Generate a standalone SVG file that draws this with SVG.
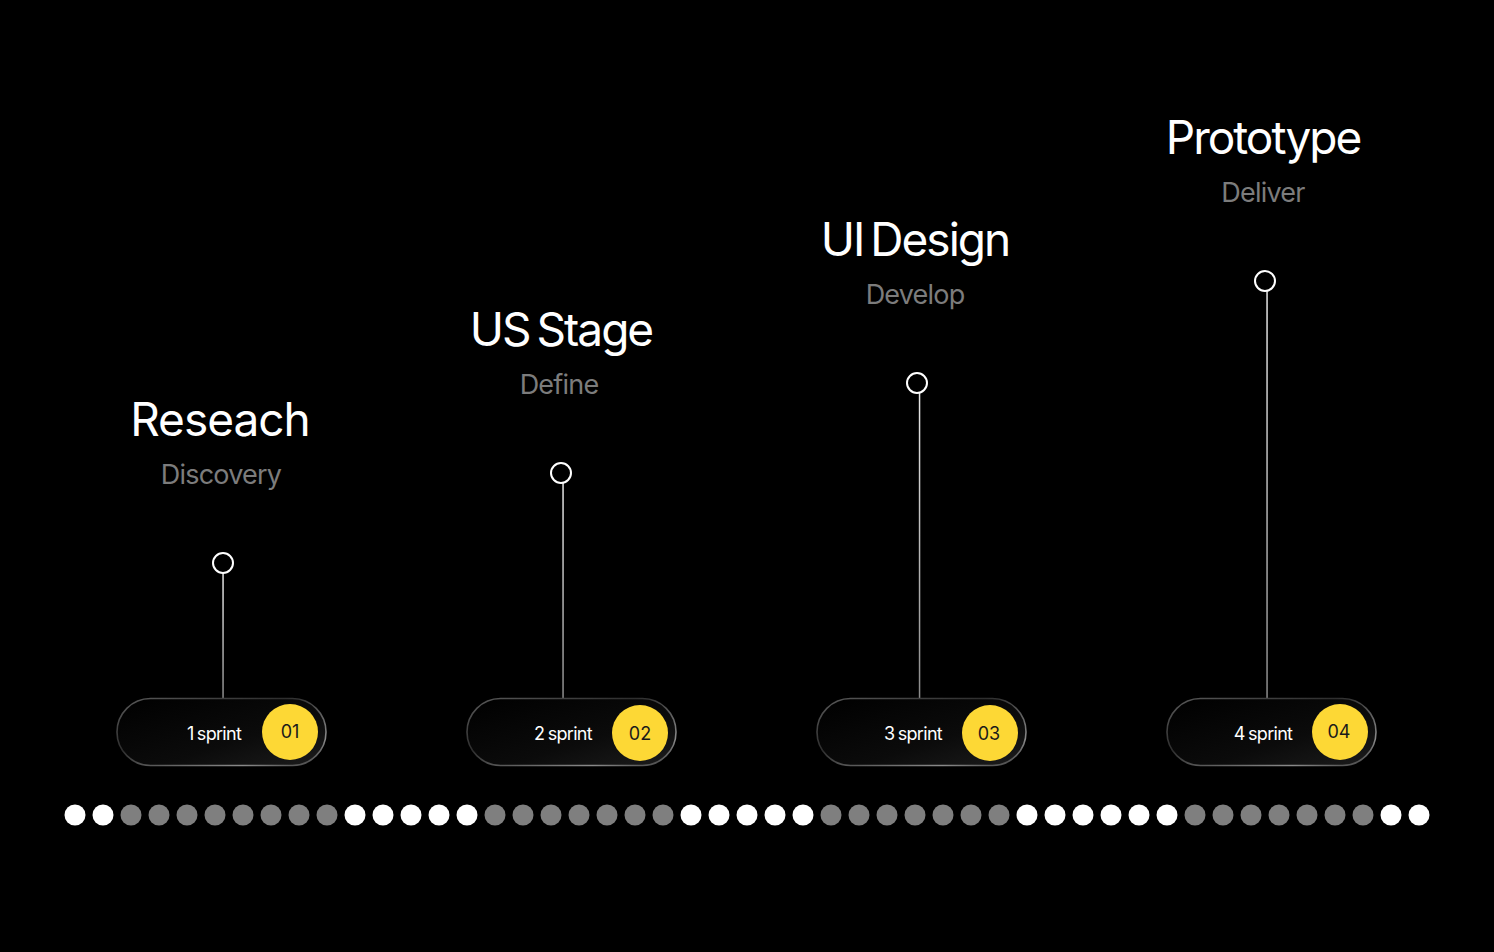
<svg xmlns="http://www.w3.org/2000/svg" width="1494" height="952" viewBox="0 0 1494 952">
<defs>
<style>
.title{font-family:Inter,"Liberation Sans",sans-serif;font-size:46px;fill:#ffffff;text-anchor:middle;font-weight:400;letter-spacing:-2px;word-spacing:-4px}
.sub{font-family:Inter,"Liberation Sans",sans-serif;font-size:27px;fill:#7c7c7c;text-anchor:middle;letter-spacing:-0.8px}
.spr{font-family:Inter,"Liberation Sans",sans-serif;font-size:18px;fill:#ffffff;text-anchor:middle;letter-spacing:-0.7px;word-spacing:-1px}
.num{font-family:Inter,"Liberation Sans",sans-serif;font-size:18px;fill:#1a1a1a;text-anchor:middle}
.pin{fill:#000;stroke:#fff;stroke-width:2}
.pill{fill:url(#pillFill);stroke:url(#pillStroke);stroke-width:1.6}
.badge{fill:#fdd835}
.w{fill:#ffffff}
.g{fill:#7f7f7f}
</style>
<linearGradient id="pillFill" x1="0" y1="0" x2="1" y2="1">
<stop offset="0" stop-color="#000"/>
<stop offset="0.6" stop-color="#0b0b0b"/>
<stop offset="1" stop-color="#1c1c1c"/>
</linearGradient>
<linearGradient id="pillStroke" x1="0" y1="0" x2="1" y2="1">
<stop offset="0" stop-color="#5a5a5a"/>
<stop offset="0.4" stop-color="#2e2e2e"/>
<stop offset="0.8" stop-color="#8a8a8a"/>
<stop offset="1" stop-color="#3a3a3a"/>
</linearGradient>
<linearGradient id="stem" x1="0" y1="0" x2="0" y2="1">
<stop offset="0" stop-color="#e6e6e6"/>
<stop offset="1" stop-color="#8a8a8a"/>
</linearGradient>
</defs>
<rect width="1494" height="952" fill="#000"/>

<g id="connectors">
<rect x="222.3" y="573" width="1.5" height="125" fill="url(#stem)"/>
<rect x="562.3" y="483" width="1.5" height="215" fill="url(#stem)"/>
<rect x="918.8" y="393" width="1.5" height="305" fill="url(#stem)"/>
<rect x="1266.3" y="291" width="1.5" height="407" fill="url(#stem)"/>
</g>

<g id="stage1">
<text class="title" x="220" y="436" style="letter-spacing:-1px">Reseach</text>
<text class="sub" x="221" y="484">Discovery</text>
<circle class="pin" cx="223" cy="563" r="10"/>
<rect class="pill" x="117" y="698.5" width="209" height="67" rx="33.5"/>
<circle class="badge" cx="290" cy="732" r="28"/>
<text class="spr" x="214" y="740">1 sprint</text>
<text class="num" x="290" y="738">01</text>
</g>

<g id="stage2">
<text class="title" x="561" y="346">US Stage</text>
<text class="sub" x="559" y="394">Define</text>
<circle class="pin" cx="561" cy="473" r="10"/>
<rect class="pill" x="467" y="698.5" width="209" height="67" rx="33.5"/>
<circle class="badge" cx="640" cy="733" r="28"/>
<text class="spr" x="563" y="740">2 sprint</text>
<text class="num" x="640" y="740">02</text>
</g>

<g id="stage3">
<text class="title" x="915" y="256">UI Design</text>
<text class="sub" x="915" y="304">Develop</text>
<circle class="pin" cx="917" cy="383" r="10"/>
<rect class="pill" x="817" y="698.5" width="209" height="67" rx="33.5"/>
<circle class="badge" cx="990" cy="733" r="28"/>
<text class="spr" x="913" y="740">3 sprint</text>
<text class="num" x="989" y="740">03</text>
</g>

<g id="stage4">
<text class="title" x="1263" y="154">Prototype</text>
<text class="sub" x="1263" y="202">Deliver</text>
<circle class="pin" cx="1265" cy="281" r="10"/>
<rect class="pill" x="1167" y="698.5" width="209" height="67" rx="33.5"/>
<circle class="badge" cx="1340" cy="732" r="28"/>
<text class="spr" x="1263" y="740">4 sprint</text>
<text class="num" x="1339" y="738">04</text>
</g>

<g id="dots">
<circle class="w" cx="75" cy="815" r="10.5"/>
<circle class="w" cx="103" cy="815" r="10.5"/>
<circle class="g" cx="131" cy="815" r="10.5"/>
<circle class="g" cx="159" cy="815" r="10.5"/>
<circle class="g" cx="187" cy="815" r="10.5"/>
<circle class="g" cx="215" cy="815" r="10.5"/>
<circle class="g" cx="243" cy="815" r="10.5"/>
<circle class="g" cx="271" cy="815" r="10.5"/>
<circle class="g" cx="299" cy="815" r="10.5"/>
<circle class="g" cx="327" cy="815" r="10.5"/>
<circle class="w" cx="355" cy="815" r="10.5"/>
<circle class="w" cx="383" cy="815" r="10.5"/>
<circle class="w" cx="411" cy="815" r="10.5"/>
<circle class="w" cx="439" cy="815" r="10.5"/>
<circle class="w" cx="467" cy="815" r="10.5"/>
<circle class="g" cx="495" cy="815" r="10.5"/>
<circle class="g" cx="523" cy="815" r="10.5"/>
<circle class="g" cx="551" cy="815" r="10.5"/>
<circle class="g" cx="579" cy="815" r="10.5"/>
<circle class="g" cx="607" cy="815" r="10.5"/>
<circle class="g" cx="635" cy="815" r="10.5"/>
<circle class="g" cx="663" cy="815" r="10.5"/>
<circle class="w" cx="691" cy="815" r="10.5"/>
<circle class="w" cx="719" cy="815" r="10.5"/>
<circle class="w" cx="747" cy="815" r="10.5"/>
<circle class="w" cx="775" cy="815" r="10.5"/>
<circle class="w" cx="803" cy="815" r="10.5"/>
<circle class="g" cx="831" cy="815" r="10.5"/>
<circle class="g" cx="859" cy="815" r="10.5"/>
<circle class="g" cx="887" cy="815" r="10.5"/>
<circle class="g" cx="915" cy="815" r="10.5"/>
<circle class="g" cx="943" cy="815" r="10.5"/>
<circle class="g" cx="971" cy="815" r="10.5"/>
<circle class="g" cx="999" cy="815" r="10.5"/>
<circle class="w" cx="1027" cy="815" r="10.5"/>
<circle class="w" cx="1055" cy="815" r="10.5"/>
<circle class="w" cx="1083" cy="815" r="10.5"/>
<circle class="w" cx="1111" cy="815" r="10.5"/>
<circle class="w" cx="1139" cy="815" r="10.5"/>
<circle class="w" cx="1167" cy="815" r="10.5"/>
<circle class="g" cx="1195" cy="815" r="10.5"/>
<circle class="g" cx="1223" cy="815" r="10.5"/>
<circle class="g" cx="1251" cy="815" r="10.5"/>
<circle class="g" cx="1279" cy="815" r="10.5"/>
<circle class="g" cx="1307" cy="815" r="10.5"/>
<circle class="g" cx="1335" cy="815" r="10.5"/>
<circle class="g" cx="1363" cy="815" r="10.5"/>
<circle class="w" cx="1391" cy="815" r="10.5"/>
<circle class="w" cx="1419" cy="815" r="10.5"/>
</g>
</svg>
